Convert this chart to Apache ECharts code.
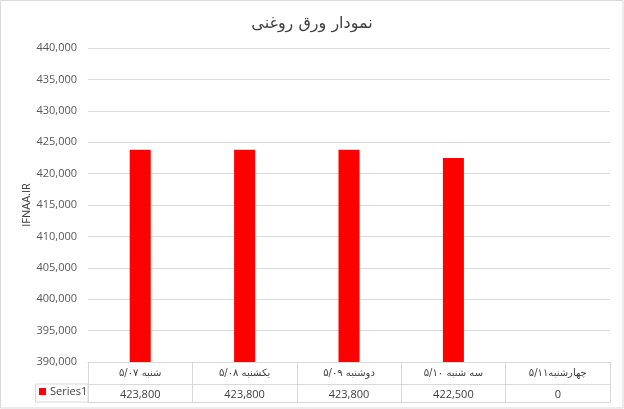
<!DOCTYPE html>
<html><head><meta charset="utf-8">
<script src="https://cdn.jsdelivr.net/npm/echarts@6/dist/echarts.min.js"></script>
<style>html,body{margin:0;padding:0;background:#fff}#c{width:624px;height:409px}</style>
</head><body><div id="c"></div>
<script>
const chartTitle = 'نمودار ورق روغنی';
const categories = ['شنبه ۵/۰۷', 'یکشنبه ۵/۰۸', 'دوشنبه ۵/۰۹', 'سه شنبه ۵/۱۰', 'چهارشنبه۵/۱۱'];
const seriesName = 'Series1';
const values = [423800, 423800, 423800, 422500, 0];
const yMin = 390000, yMax = 440000, yStep = 5000;
const yName = 'IFNAA.IR';

const fmt = v => Number(v).toLocaleString('en-US');
const lineC = '#d9d9d9';
const textC = '#404040';
const chart = echarts.init(document.getElementById('c'), null, {renderer: 'canvas'});
chart.setOption({
  animation: false,
  backgroundColor: '#fff',
  title: {text: chartTitle, left: 'center', top: 11,
    textStyle: {fontSize: 16, fontWeight: 'normal', color: textC, fontFamily: 'DejaVu Sans'}},
  grid: {left: 88, right: 14, top: 48, bottom: 47},
  legend: {data: [seriesName], left: 39, top: 386, padding: 0, icon: 'rect', itemWidth: 7, itemHeight: 7, itemGap: 4,
    textStyle: {fontSize: 11, color: textC, fontFamily: 'Open Sans', padding: [0, 0, 0, -1]}},
  xAxis: [
    {type: 'category', data: categories, position: 'bottom',
      axisLine: {show: true, lineStyle: {color: lineC}},
      axisTick: {show: true, interval: 0, length: 40, lineStyle: {color: lineC}},
      axisLabel: {interval: 0, margin: 6, fontSize: 10, color: textC, fontFamily: 'DejaVu Sans'}},
    {type: 'category', data: categories, position: 'bottom', offset: 22,
      axisLine: {show: true, lineStyle: {color: lineC}}, axisTick: {show: false},
      axisLabel: {interval: 0, margin: 5, fontSize: 11, color: textC, fontFamily: 'Open Sans',
        formatter: (v, i) => fmt(values[i])}},
    {type: 'category', data: categories, position: 'bottom', offset: 40,
      axisLine: {show: true, lineStyle: {color: lineC}}, axisTick: {show: false}, axisLabel: {show: false}}
  ],
  yAxis: {type: 'value', min: yMin, max: yMax, interval: yStep,
    name: yName, nameLocation: 'middle', nameGap: 56, nameRotate: 90, nameMoveOverlap: false,
    nameTextStyle: {fontSize: 11, color: textC, fontFamily: 'Open Sans'},
    axisLine: {show: false}, axisTick: {show: false},
    axisLabel: {fontSize: 11, color: '#595959', margin: 11, fontFamily: 'Open Sans', formatter: fmt},
    splitLine: {lineStyle: {color: lineC}}},
  series: [{name: seriesName, type: 'bar', data: values, barWidth: 21, clip: true,
    itemStyle: {color: '#ff0000'}}],
  graphic: [
    {type: 'rect', shape: {x: 0.5, y: 0.5, width: 622.5, height: 407.5}, style: {fill: 'none', stroke: lineC}, silent: true, z: -1},
    {type: 'rect', shape: {x: 35.5, y: 384, width: 52.5, height: 18}, style: {fill: 'none', stroke: lineC}, silent: true}
  ]
});
</script></body></html>
